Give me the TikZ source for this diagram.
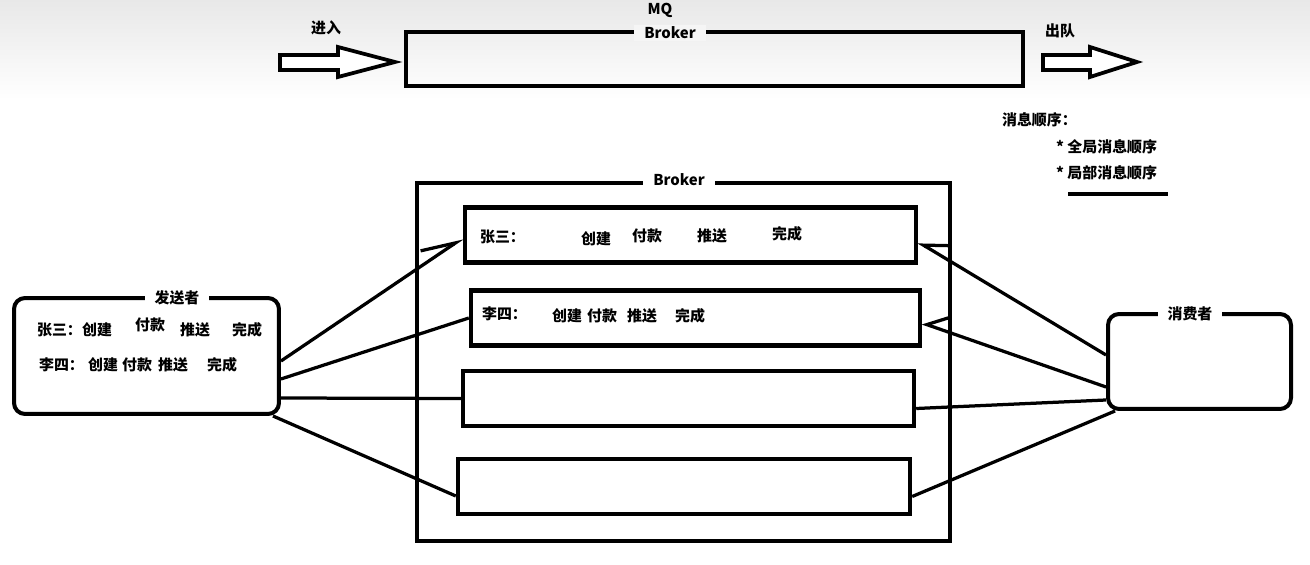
\documentclass[tikz,border=0pt]{standalone}
\usepackage{fontspec}
\setmainfont{Noto Sans CJK SC}
\usetikzlibrary{positioning, arrows.meta, calc}

\begin{document}
\begin{tikzpicture}[
    x=0.02cm, y=-0.02cm,
    every node/.style={font=\fontsize{8.5}{10}\selectfont\bfseries, inner sep=1pt},
    container/.style={draw, line width=0.09cm, inner sep=0pt},
    queue/.style={draw, line width=0.09cm, inner sep=0pt,
                  minimum width=9.02cm, minimum height=1.1cm},
    party/.style={draw, line width=0.08cm, rounded corners=0.22cm, inner sep=0pt},
    tag/.style={fill=white, inner xsep=0.2cm, inner ysep=1pt},
    link/.style={line width=0.065cm},
    hollow/.style={draw, line width=0.075cm, fill=white, line join=miter},
  ]
  \useasboundingbox (0,0) rectangle (1310,564);
  \shade[top color=black!9, bottom color=white] (0,0) rectangle (1310,100);

  % MQ overview
  \node[container, minimum width=12.34cm, minimum height=1.08cm] (mq) at (714.5,59) {};
  \node[tag, fill=black!4] (mqtag) at (670,33) {Broker};
  \node (mqname) at (660,10) {MQ};
  \draw[hollow] (280,55) -- (338,55) -- (338,47) -- (395,62) -- (338,77) -- (338,70) -- (280,70) -- cycle;
  \node (enter) at (326,28) {进入};
  \draw[hollow] (1043,55) -- (1090,55) -- (1090,47) -- (1137,62) -- (1090,77) -- (1090,70) -- (1043,70) -- cycle;
  \node (leave) at (1060,31) {出队};

  % ordering notes
  \node[anchor=west] (order) at (1000,120) {消息顺序：};
  \node[anchor=west] (global) at (1054,147) {* 全局消息顺序};
  \node[anchor=west] (local) at (1054,173) {* 局部消息顺序};
  \draw[link] (1068,194) -- (1168,194);

  % broker with queues
  \node[container, minimum width=10.66cm, minimum height=7.16cm] (broker) at (683.5,362) {};
  \node[tag] (brokertag) at (679,180) {Broker};
  \node[queue] (q1) at (690.5,235) {};
  \node[queue, minimum width=8.98cm] (q2) at (695.5,318) {};
  \node[queue] (q3) at (688.5,398.5) {};
  \node[queue, minimum width=9.04cm] (q4) at (684,486.5) {};

  \node[anchor=west] (q1name) at (478,237) {张三：};
  \node (q1a) at (596,239) {创建};
  \node (q1b) at (647,236) {付款};
  \node (q1c) at (712,236) {推送};
  \node (q1d) at (787,234) {完成};
  \node[anchor=west] (q2name) at (480,314) {李四：};
  \node (q2a) at (567,316) {创建};
  \node (q2b) at (602,316) {付款};
  \node (q2c) at (642,316) {推送};
  \node (q2d) at (690,316) {完成};

  % sender
  \node[party, minimum width=5.3cm, minimum height=2.32cm] (sender) at (146.5,356) {};
  \node[tag] (sendertag) at (177,298) {发送者};
  \node[anchor=west] (s1name) at (35,330) {张三：};
  \node (s1a) at (97,330) {创建};
  \node (s1b) at (150,325) {付款};
  \node (s1c) at (195,330) {推送};
  \node (s1d) at (247,330) {完成};
  \node[anchor=west] (s2name) at (37,365) {李四：};
  \node (s2a) at (103,365) {创建};
  \node (s2b) at (137,365) {付款};
  \node (s2c) at (173,365) {推送};
  \node (s2d) at (222,365) {完成};

  % consumer
  \node[party, minimum width=3.66cm, minimum height=1.9cm] (consumer) at (1199.5,361.5) {};
  \node[tag] (consumertag) at (1190,314) {消费者};

  % sender -> queues
  \draw[link, -{Straight Barb[harpoon, length=0.67cm, width=0.52cm]}]
    ([yshift=-0.1cm]sender.east) -- ([yshift=-0.06cm]q1.west);
  \draw[link] ([yshift=-0.46cm]sender.east) -- (q2.west);
  \draw[link] ([yshift=-0.84cm]sender.east) -- (q3.west);
  \draw[link] ([xshift=-0.16cm]sender.south east) -- ([yshift=-0.19cm]q4.west);

  % consumer -> queues
  \draw[link, -{Straight Barb[harpoon, swap, length=0.47cm, width=0.54cm]}]
    ([yshift=0.13cm]consumer.west) -- ([yshift=-0.14cm]q1.east);
  \draw[link, -{Straight Barb[harpoon, swap, length=0.37cm, width=0.55cm]}]
    ([yshift=-0.51cm]consumer.west) -- ([yshift=-0.1cm]q2.east);
  \draw[link] ([yshift=-0.77cm]consumer.west) -- ([yshift=-0.2cm]q3.east);
  \draw[link] ([xshift=0.18cm]consumer.south west) -- ([yshift=-0.2cm]q4.east);
\end{tikzpicture}
\end{document}
